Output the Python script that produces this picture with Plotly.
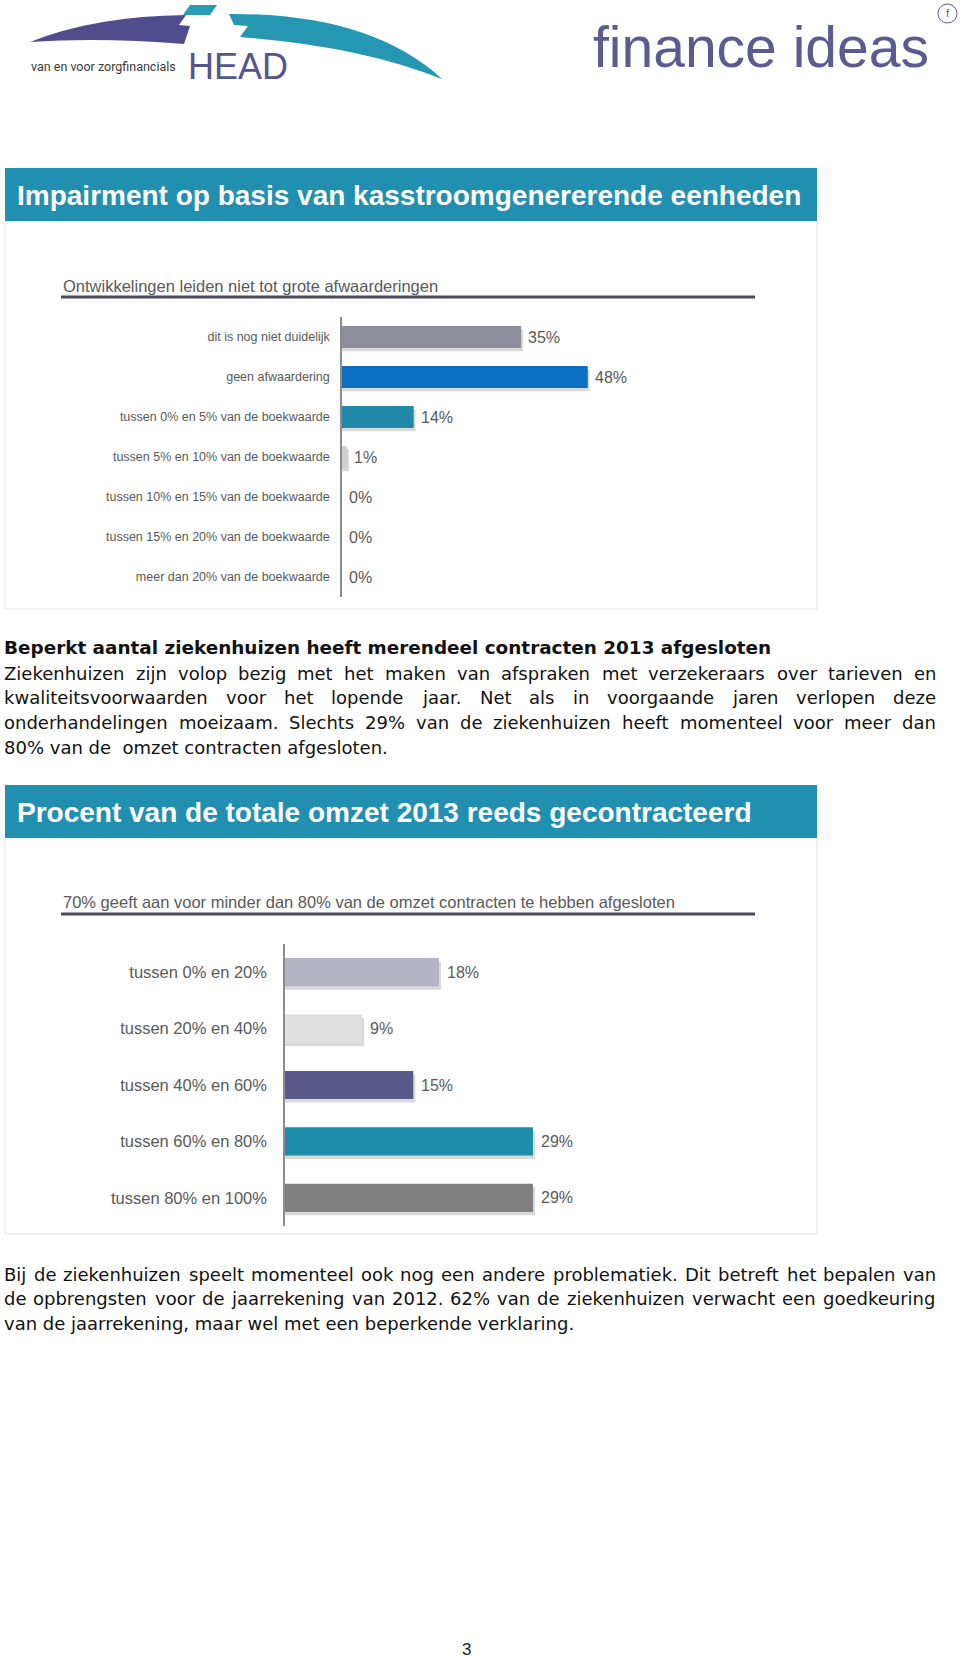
import plotly.graph_objects as go

W, H = 960, 1660

# ---------------- data ----------------
cats1 = ["dit is nog niet duidelijk", "geen afwaardering",
         "tussen 0% en 5% van de boekwaarde", "tussen 5% en 10% van de boekwaarde",
         "tussen 10% en 15% van de boekwaarde", "tussen 15% en 20% van de boekwaarde",
         "meer dan 20% van de boekwaarde"]
vals1 = [35, 48, 14, 1, 0, 0, 0]
colors1 = ["#8d909c", "#0b6fc1", "#2189a8", "#cfcfd3", "#cccccc", "#cccccc", "#cccccc"]

cats2 = ["tussen 0% en 20%", "tussen 20% en 40%", "tussen 40% en 60%",
         "tussen 60% en 80%", "tussen 80% en 100%"]
vals2 = [18, 9, 15, 29, 29]
colors2 = ["#b3b4c4", "#dfdfdf", "#5a5a8a", "#1f8ca9", "#808080"]

title1 = "Impairment op basis van kasstroomgenererende eenheden"
subtitle1 = "Ontwikkelingen leiden niet tot grote afwaarderingen"
title2 = "Procent van de totale omzet 2013 reeds gecontracteerd"
subtitle2 = "70% geeft aan voor minder dan 80% van de omzet contracten te hebben afgesloten"
heading = "Beperkt aantal ziekenhuizen heeft merendeel contracten 2013 afgesloten"
para1 = [
    ("Ziekenhuizen zijn volop bezig met het maken van afspraken met verzekeraars over tarieven en", True),
    ("kwaliteitsvoorwaarden voor het lopende jaar. Net als in voorgaande jaren verlopen deze", True),
    ("onderhandelingen moeizaam. Slechts 29% van de ziekenhuizen heeft momenteel voor meer dan", True),
    ("80% van de\u00a0 omzet contracten afgesloten.", False),
]
para2 = [
    ("Bij de ziekenhuizen speelt momenteel ook nog een andere problematiek. Dit betreft het bepalen van", True),
    ("de opbrengsten voor de jaarrekening van 2012. 62% van de ziekenhuizen verwacht een goedkeuring", True),
    ("van de jaarrekening, maar wel met een beperkende verklaring.", False),
]
page_no = "3"


def px(x):
    return x / W


def py(y):
    return 1 - y / H


ARIAL = "Liberation Sans, Arial, sans-serif"
BODY = "DejaVu Sans, Verdana, sans-serif"
GREY = "#595959"

fig = go.Figure()

# ---------------- bars panel 1 ----------------
bw1 = 0.55
fig.add_trace(go.Bar(
    y=cats1, x=[v + 0.35 if v > 0 else 0 for v in vals1], orientation="h",
    width=bw1, offset=-bw1 / 2 + 0.08, marker=dict(color="rgba(0,0,0,0.15)", line=dict(width=0)),
    hoverinfo="skip", xaxis="x", yaxis="y", showlegend=False))
fig.add_trace(go.Bar(
    y=cats1, x=vals1, orientation="h", width=bw1, offset=-bw1 / 2,
    marker=dict(color=colors1, line=dict(width=0)),
    hoverinfo="skip", xaxis="x", yaxis="y", showlegend=False))

# ---------------- bars panel 2 ----------------
bw2 = 0.5
fig.add_trace(go.Bar(
    y=cats2, x=[v + 0.25 if v > 0 else 0 for v in vals2], orientation="h",
    width=bw2, offset=-bw2 / 2 + 0.06, marker=dict(color="rgba(0,0,0,0.15)", line=dict(width=0)),
    hoverinfo="skip", xaxis="x2", yaxis="y2", showlegend=False))
fig.add_trace(go.Bar(
    y=cats2, x=vals2, orientation="h", width=bw2, offset=-bw2 / 2,
    marker=dict(color=colors2, line=dict(width=0)),
    hoverinfo="skip", xaxis="x2", yaxis="y2", showlegend=False))

annotations = []
for c, v in zip(cats1, vals1):
    annotations.append(dict(x=v, y=c, xref="x", yref="y", text=f"{v}%", showarrow=False,
                            xanchor="left", yanchor="middle", xshift=6, borderpad=0,
                            font=dict(family=ARIAL, size=16, color=GREY)))
for c, v in zip(cats2, vals2):
    annotations.append(dict(x=v, y=c, xref="x2", yref="y2", text=f"{v}%", showarrow=False,
                            xanchor="left", yanchor="middle", xshift=7, borderpad=0,
                            font=dict(family=ARIAL, size=16, color=GREY)))


def txt(x, y, s, size, color, family, anchor="left", bold=False):
    annotations.append(dict(x=px(x), y=py(y), xref="paper", yref="paper",
                            text=f"<b>{s}</b>" if bold else s, showarrow=False,
                            xanchor=anchor, yanchor="middle", borderpad=0,
                            font=dict(family=family, size=size, color=color)))


# DejaVu Sans advance widths (units / 2048)
DV = {" ": 651, "%": 1946, ",": 651, ".": 651, "B": 1405, "D": 1577, "N": 1532, "S": 1300,
      "Z": 1403, "a": 1255, "b": 1300, "c": 1126, "d": 1300, "e": 1260, "f": 721, "g": 1300,
      "h": 1298, "i": 569, "j": 569, "k": 1186, "l": 569, "m": 1995, "n": 1298, "o": 1253,
      "p": 1300, "q": 1300, "r": 842, "s": 1067, "t": 803, "u": 1298, "v": 1212, "w": 1675,
      "x": 1212, "y": 1212, "z": 1075}
for d in "0123456789":
    DV[d] = 1303


def width(s, size):
    return sum(DV.get(ch, 1200) for ch in s) / 2048 * size


def paragraph(lines, y0, step, size, x0=3, x1=935):
    for i, (line, just) in enumerate(lines):
        y = y0 + i * step
        if not just:
            txt(x0, y, line, size, "#111111", BODY)
            continue
        words = line.split(" ")
        ws = [width(w, size) for w in words]
        gap = (x1 - x0 - sum(ws)) / (len(words) - 1)
        x = x0
        for w, wd in zip(words, ws):
            txt(x, y, w, size, "#111111", BODY)
            x += wd + gap


# ---------------- text blocks ----------------
txt(16, 195, title1, 28, "white", ARIAL, bold=True)
txt(62, 286, subtitle1, 16.5, GREY, ARIAL)
txt(16, 812, title2, 28, "white", ARIAL, bold=True)
txt(62, 902, subtitle2, 16.5, GREY, ARIAL)
txt(3, 647, heading, 18.4, "#111111", BODY, bold=True)
paragraph(para1, 673, 24.8, 18)
paragraph(para2, 1274, 24.8, 18)
txt(466, 1649, page_no, 17, "#222222", ARIAL, anchor="center")

# logos text
txt(30, 66, "van en voor zorgfinancials", 12.5, "#3a3a3a", "Liberation Sans Narrow, Arial Narrow, Roboto, sans-serif")
txt(187, 67, "HEAD", 36, "#55548c", ARIAL)
txt(592, 47, "finance ideas", 57, "#5b5b91", ARIAL)
txt(948, 13, "f", 11, "#5b5b91", ARIAL, anchor="center")


def path(cmds):
    out = []
    for c in cmds:
        op, pts = c[0], c[1:]
        out.append(op + " ".join(f"{px(x):.5f},{py(y):.5f}" for x, y in pts))
    return " ".join(out)


shapes = []


def rect(x0, y0, x1, y1, fill, line=None, lw=0, layer="below"):
    shapes.append(dict(type="rect", xref="paper", yref="paper", x0=px(x0), x1=px(x1),
                       y0=py(y1), y1=py(y0), fillcolor=fill, layer=layer,
                       line=dict(color=line or fill, width=lw)))


# panel boxes
rect(5, 221, 817, 609, "white", "#e2e2e2", 1)
rect(5, 168, 817, 221, "#2190b0")
rect(5, 838, 817, 1234, "white", "#e2e2e2", 1)
rect(5, 785, 817, 838, "#2190b0")
# underlines
for yy in (297, 914):
    shapes.append(dict(type="line", xref="paper", yref="paper", x0=px(61), x1=px(755),
                       y0=py(yy), y1=py(yy), line=dict(color="#4b4b5c", width=3)))

# HEAD logo swooshes
shapes.append(dict(type="path", xref="paper", yref="paper", fillcolor="#4f4d8c", line=dict(width=0),
                   path=path([("M", (30, 42)), ("Q", (95, 16), (186, 15)), ("L", (179, 25)),
                              ("L", (190, 26)), ("L", (184, 44)), ("Q", (100, 37), (30, 42)), ("Z",)])))
shapes.append(dict(type="path", xref="paper", yref="paper", fillcolor="#2a9bb5", line=dict(width=0),
                   path=path([("M", (190, 5)), ("L", (217, 5)), ("L", (210, 15)), ("L", (183, 15)), ("Z",)])))
shapes.append(dict(type="path", xref="paper", yref="paper", fillcolor="#2597b3", line=dict(width=0),
                   path=path([("M", (229, 14)), ("Q", (370, 13), (442, 79)), ("Q", (360, 46), (240, 37)),
                              ("L", (248, 26)), ("L", (234, 25)), ("Z",)])))
shapes.append(dict(type="circle", xref="paper", yref="paper", x0=px(938), x1=px(957),
                   y0=py(23), y1=py(4), line=dict(color="#5b5b91", width=1)))

fig.update_layout(
    width=W, height=H, margin=dict(l=0, r=0, t=0, b=0),
    paper_bgcolor="white", plot_bgcolor="rgba(0,0,0,0)",
    barmode="overlay", showlegend=False,
    xaxis=dict(domain=[px(342), px(342 + 80 * 5.12)], range=[0, 80], visible=False,
               anchor="y", fixedrange=True),
    yaxis=dict(domain=[py(597), py(317)], anchor="x", type="category", range=[6.5, -0.5],
               showline=True, linecolor="#8c8c8c", linewidth=1.5, ticks="", showgrid=False,
               zeroline=False, ticklabelstandoff=8, fixedrange=True,
               tickfont=dict(family=ARIAL, size=12.5, color=GREY)),
    xaxis2=dict(domain=[px(285), px(285 + 60 * 8.55)], range=[0, 60], visible=False,
                anchor="y2", fixedrange=True),
    yaxis2=dict(domain=[py(1226), py(944)], anchor="x2", type="category", range=[4.5, -0.5],
                showline=True, linecolor="#8c8c8c", linewidth=1.5, ticks="", showgrid=False,
                zeroline=False, ticklabelstandoff=13, fixedrange=True,
                tickfont=dict(family=ARIAL, size=16.5, color=GREY)),
    annotations=annotations,
    shapes=shapes,
)

fig.write_html("out.html")
